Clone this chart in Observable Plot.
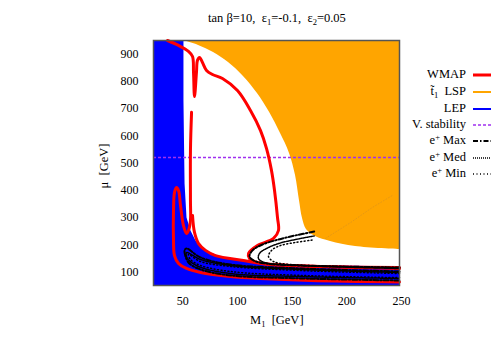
<!DOCTYPE html>
<html><head><meta charset="utf-8">
<script src="https://cdn.jsdelivr.net/npm/d3@7"></script>
<script src="https://cdn.jsdelivr.net/npm/@observablehq/plot@0.6"></script>
<style>
body{margin:0;background:#fff;}
#wrap{position:relative;width:491px;height:343px;overflow:hidden;font-family:"Liberation Serif","Times New Roman",serif;color:#000;}
#wrap svg{position:absolute;left:0;top:0;}
.t{position:absolute;font-size:12.5px;line-height:14px;white-space:nowrap;}
.t sub{font-size:8.5px;vertical-align:-3px;line-height:0;}
.t sup{font-size:8.5px;vertical-align:4px;line-height:0;}
.lg{position:absolute;right:25px;font-size:12.5px;line-height:14px;white-space:nowrap;text-align:right;}
.lg sub{font-size:8.5px;vertical-align:-3px;line-height:0;}
.lg sup{font-size:8.5px;vertical-align:4px;line-height:0;}
.ls{position:absolute;left:473px;width:20px;height:10px;}
</style></head><body><div id="wrap"></div>
<script>
// ---- tick values ----
const xTicks = [50, 100, 150, 200, 250];
const yTicks = [100, 200, 300, 400, 500, 600, 700, 800, 900];
const xDomain = [25, 250];
const yDomain = [50, 950];

// ---- regions [M1, mu] ----
const lepRegion = [[25,950],[52.4,950],[52.4,730],[53.4,425],[55.2,300],[58.8,252],[63.4,215],[72.6,179],[86.3,156.5],[109.1,138],[141.2,127],[250,120],[250,50],[25,50]];
// stop-LSP region: left/lower boundary, region extends to M1 = 250
const stopBoundary = [[52.4,950],[66.2,932],[79.9,906],[93.6,869],[107.3,818],[120.1,755],[131.1,686],[141.2,608],[149.4,535],[154.9,454],[158.5,362],[161.3,296],[164.9,256],[173.2,230],[186.9,212],[209.8,193],[250,182]];

// ---- vacuum stability ----
const vacStabMu = [520];

// ---- WMAP contours [M1, mu] ----
const wmapA = [[37.8,950],[47.9,932],[57,910],[60.7,891],[61.6,833],[62.5,744],[64.3,833],[65.2,877],[67.1,888],[69.8,869],[73.5,840],[79,825],[88.1,810.5],[101.8,766],[113.7,693],[122.9,619],[128.4,553],[132.9,473],[135.7,399],[138.4,300],[139.3,252],[134.8,223],[120.1,197],[111.9,168],[112.8,149],[120.1,134.5],[150.3,123.5],[250,116]];
const wmapB = [[59.8,686],[58.8,546],[58.8,362],[58.8,289],[57,252],[55.2,241],[52.4,270],[49.7,344],[47.9,399],[46,410],[44.2,392],[43.3,326],[43.3,215],[44.2,160],[47.9,131],[55.2,112.5],[68,97.8],[95.4,83],[122.9,75.7],[168.6,68.4],[250,63]];
const wmapC = [[60.7,307],[62.5,245],[66.2,204],[72.6,179],[81.7,160],[107.3,142],[132,127],[177.7,120],[250,112]];

// ---- e+ contours [M1, mu] ----
const ePlusMaxUpper = [[172,248],[154.9,234],[139.3,219],[124.7,200.6],[115.6,179],[112.8,156.5],[116.5,142],[127.4,131],[159.5,123.5],[250,116]];
const ePlusMedUpper = [[172,232],[154.9,219],[139.3,204],[128.4,186],[122,168],[121,149],[126.5,134.5],[159.5,123.5],[250,112.5]];
const ePlusMinUpper = [[170,217],[154.9,208],[141.2,197],[133,179],[130.2,156.5],[134.8,138],[150.3,127],[250,116]];
const ePlusMaxLower = [[250,101.4],[159.5,112.5],[95.4,127],[68,153],[55.2,186],[53.4,179],[57,134.5],[68,109],[95.4,87],[159.5,76],[250,68.4]];
const ePlusMedLower = [[250,97.8],[159.5,109],[95.4,123.5],[68,145.5],[55.2,171],[56.1,149],[66.2,120],[95.4,94],[159.5,83],[250,76]];
const ePlusMinLower = [[250,94],[159.5,105],[95.4,120],[68,138],[57,164],[58.8,145.5],[68,123.5],[95.4,101.4],[159.5,87],[250,79]];
const ePlusFaint = [[182.3,223],[205.2,281],[225.3,337],[243.6,381]];

const X = d => d[0], Y = d => d[1];
const red = "#ff0000";
const smooth = "catmull-rom";

const plot = Plot.plot({
  width: 491, height: 343,
  marginLeft: 153, marginRight: 92, marginTop: 40, marginBottom: 58,
  style: {fontFamily: "Liberation Serif, Times New Roman, serif", fontSize: "12px", background: "transparent", color: "#000"},
  x: {domain: xDomain, axis: null},
  y: {domain: yDomain, axis: null},
  marks: [
    Plot.areaX(stopBoundary, {y: Y, x1: X, x2: () => xDomain[1], fill: "#ffa500", curve: smooth, clip: true}),
    Plot.line(lepRegion, {x: X, y: Y, fill: "#0000ff", stroke: "none", curve: "linear-closed"}),
    Plot.line(ePlusFaint, {x: X, y: Y, stroke: "#b07a3a", strokeOpacity: 0.3, strokeWidth: 1, strokeDasharray: "1,2"}),
    Plot.ruleY(vacStabMu, {stroke: "#a030f0", strokeWidth: 1.5, strokeDasharray: "3,2"}),
    Plot.line(wmapA, {x: X, y: Y, stroke: red, strokeWidth: 3, strokeLinejoin: "round", curve: smooth}),
    Plot.line(wmapB, {x: X, y: Y, stroke: red, strokeWidth: 3, strokeLinejoin: "round", curve: smooth}),
    Plot.line(wmapC, {x: X, y: Y, stroke: red, strokeWidth: 3, strokeLinejoin: "round", curve: smooth}),
    Plot.line(ePlusMaxUpper, {x: X, y: Y, stroke: "#000", strokeWidth: 2, strokeDasharray: "5,2,1.5,2", curve: smooth}),
    Plot.line(ePlusMedUpper, {x: X, y: Y, stroke: "#000", strokeWidth: 1.5, strokeDasharray: "1,1", curve: smooth}),
    Plot.line(ePlusMinUpper, {x: X, y: Y, stroke: "#000", strokeWidth: 1.5, strokeDasharray: "1,2.5", curve: smooth}),
    Plot.line(ePlusMaxLower, {x: X, y: Y, stroke: "#000", strokeWidth: 2, strokeDasharray: "5,2,1.5,2", curve: smooth}),
    Plot.line(ePlusMedLower, {x: X, y: Y, stroke: "#000", strokeWidth: 1.5, strokeDasharray: "1,1", curve: smooth}),
    Plot.line(ePlusMinLower, {x: X, y: Y, stroke: "#000", strokeWidth: 1.5, strokeDasharray: "1,2.5", curve: smooth}),
    Plot.frame({stroke: "#555", strokeWidth: 1.5}),
    Plot.axisX(xTicks, {tickSize: 0, tickPadding: 11, dx: 2, label: null}),
    Plot.axisY(yTicks, {tickSize: 0, tickPadding: 15, label: null})
  ]
});

const wrap = document.getElementById("wrap");
wrap.appendChild(plot);

function addText(html, cls, css) {
  const d = document.createElement("div");
  d.className = cls; d.innerHTML = html;
  Object.assign(d.style, css);
  wrap.appendChild(d);
  return d;
}
// title
const tt = addText("tan β=10,&nbsp; ε<sub>1</sub>=-0.1,&nbsp; ε<sub>2</sub>=0.05", "t", {top: "11px"});
tt.style.left = (277 - tt.offsetWidth / 2) + "px";
// x label
const xl = addText("M<sub>1</sub>&nbsp; [GeV]", "t", {top: "313px"});
xl.style.left = (277 - xl.offsetWidth / 2) + "px";
// y label
const yl = addText("μ&nbsp; [GeV]", "t", {});
yl.style.left = (104 - yl.offsetWidth / 2) + "px";
yl.style.top = (166 - 7) + "px";
yl.style.transform = "rotate(-90deg)";

// legend
const legendLabels = ["WMAP", "t̃<sub>1</sub>&nbsp; LSP", "LEP", "V. stability", "e<sup>+</sup> Max", "e<sup>+</sup> Med", "e<sup>+</sup> Min"];
const legendStyles = [
  {stroke: "#ff0000", w: 3, dash: ""},
  {stroke: "#ffa500", w: 2, dash: ""},
  {stroke: "#0000ff", w: 2, dash: ""},
  {stroke: "#a030f0", w: 1.5, dash: "3,2"},
  {stroke: "#000", w: 2, dash: "5,2,1.5,2"},
  {stroke: "#000", w: 1.5, dash: "1,1"},
  {stroke: "#000", w: 1.5, dash: "1,2.5"}
];
const legendY = [75, 92, 109, 125, 141, 158, 174];
legendLabels.forEach((lab, i) => {
  addText(lab, "lg", {top: (legendY[i] - 8) + "px"});
  const s = legendStyles[i];
  const sv = document.createElementNS("http://www.w3.org/2000/svg", "svg");
  sv.setAttribute("class", "ls");
  sv.setAttribute("width", "20"); sv.setAttribute("height", "10");
  sv.style.top = (legendY[i] - 5) + "px";
  sv.style.left = "473px";
  sv.innerHTML = `<line x1="0" y1="5" x2="20" y2="5" stroke="${s.stroke}" stroke-width="${s.w}" ${s.dash ? `stroke-dasharray="${s.dash}"` : ""}/>`;
  wrap.appendChild(sv);
});
</script>
</body></html>
